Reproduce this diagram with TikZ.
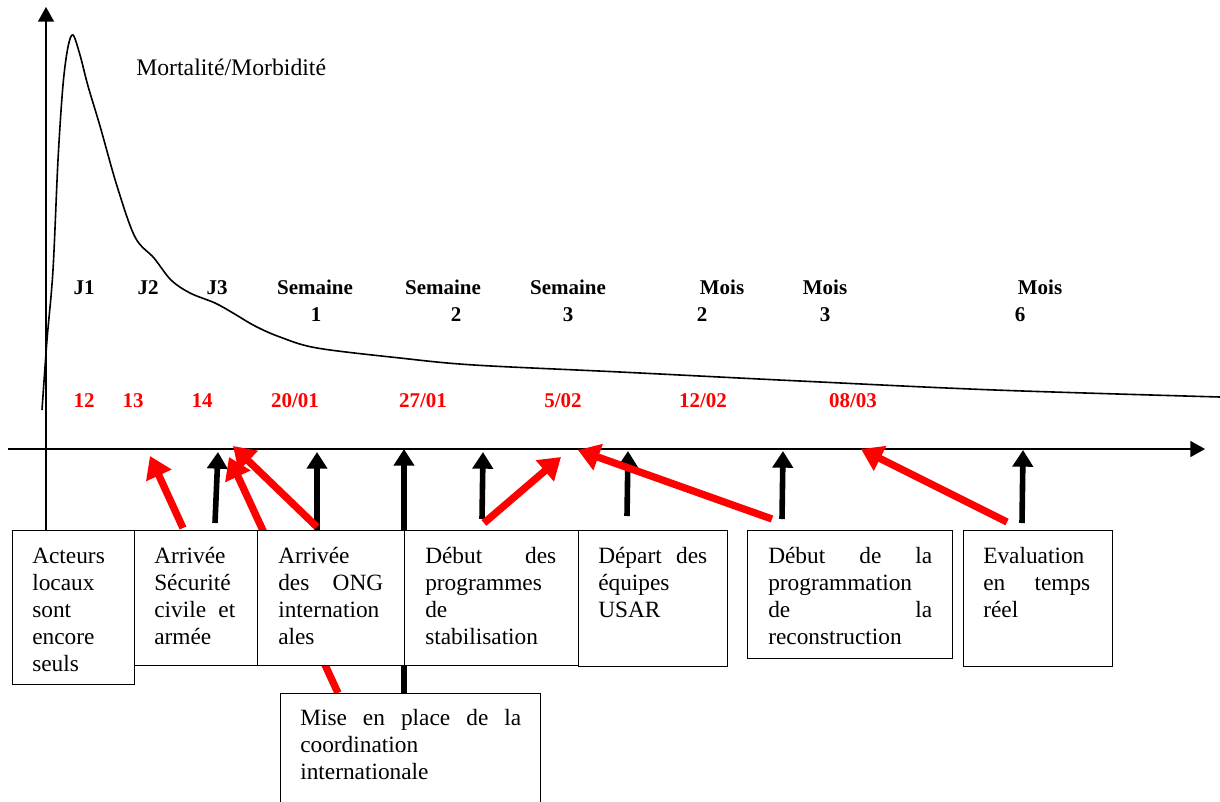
\documentclass[tikz,border=0pt]{standalone}
\usepackage{fontspec}
\setmainfont{Liberation Serif}
\usetikzlibrary{arrows.meta}
\definecolor{redarr}{RGB}{255,0,0}
\begin{document}
\begin{tikzpicture}[x=0.75pt,y=-0.75pt,
  box/.style={draw, line width=1.1pt, fill=white, inner sep=0pt, anchor=north west},
  btxt/.style={anchor=base west, inner sep=0pt, align=left, font=\fontsize{17.5}{20.25}\selectfont},
  lab/.style={anchor=base, inner sep=0pt, font=\fontsize{15.75}{18}\selectfont\bfseries},
  rlab/.style={lab, text=redarr},
  axis/.style={line width=1.2pt, -{Triangle[length=11pt,width=12pt]}},
  karr/.style={line width=4.2pt, -{Triangle[length=12.5pt,width=15pt]}},
  rarr/.style={line width=5.5pt, draw=redarr, -{Triangle[length=16pt,width=20pt,fill=redarr]}}
]
\useasboundingbox (0,0) rectangle (1220,801);
\clip (0,0) rectangle (1220,801);

% reference node for the y axis foot
\path node[box, draw=none, fill=none, minimum width=91.5pt, minimum height=115.5pt] (b1) at (12,530) {};

% axes
\coordinate (xs) at (8,449);
\coordinate (xe) at (1205,449);
\coordinate (yt) at (46,7);
\draw[axis] (xs) -- (xe);
\draw[axis] (b1.north -| yt) -- (yt);

% curve
\draw[line width=1.2pt] plot[smooth, tension=0.55] coordinates {
 (42,410) (47,340) (53,270) (58,160) (63,85) (68,47) (73,35) (80,55) (88,86)
 (100,126) (117,186) (135,237) (154,258) (171,280) (190,293) (215,303)
 (233,313) (255,326) (280,337) (317,348) (400,358) (474,365) (620,372) (800,381)
 (995,390) (1220,397)};

% arrow coordinates
\coordinate (k1s) at (215,523); \coordinate (k1e) at (218,452);
\coordinate (k2s) at (317,530); \coordinate (k2e) at (317,452);
\coordinate (k3s) at (404,693); \coordinate (k3e) at (404,449);
\coordinate (k4s) at (482,519); \coordinate (k4e) at (483,452);
\coordinate (k5s) at (627,516); \coordinate (k5e) at (628,451);
\coordinate (k6s) at (782,519); \coordinate (k6e) at (783,451);
\coordinate (k7s) at (1022,523); \coordinate (k7e) at (1023,450);
\coordinate (r1s) at (183,528); \coordinate (r1e) at (150,456);
\coordinate (r2s) at (338,693); \coordinate (r2e) at (229,457);
\coordinate (r3s) at (317,527); \coordinate (r3e) at (233,446);
\coordinate (r4s) at (484,523); \coordinate (r4e) at (561,457);
\coordinate (r5s) at (772,519); \coordinate (r5e) at (578,450);
\coordinate (r6s) at (1007,522); \coordinate (r6e) at (861,449);

\draw[karr] (k1s) -- (k1e);
\draw[karr] (k2s) -- (k2e);
\draw[karr] (k3s) -- (k3e);
\draw[karr] (k4s) -- (k4e);
\draw[karr] (k5s) -- (k5e);
\draw[karr] (k6s) -- (k6e);
\draw[karr] (k7s) -- (k7e);
\draw[rarr] (r1s) -- (r1e);
\draw[rarr] (r2s) -- (r2e);
\draw[rarr] (r3s) -- (r3e);
\draw[rarr] (r4s) -- (r4e);
\draw[rarr] (r5s) -- (r5e);
\draw[rarr] (r6s) -- (r6e);

% boxes drawn
\node[box, minimum width=91.5pt, minimum height=115.5pt] (B1) at (12,530) {};
\node[box, minimum width=92.25pt, minimum height=101.25pt] (B2) at (134,530) {};
\node[box, minimum width=110.25pt, minimum height=101.25pt] (B3) at (257,530) {};
\node[box, minimum width=130.5pt, minimum height=101.25pt] (B4) at (404,530) {};
\node[box, minimum width=111.75pt, minimum height=102pt] (B5) at (578,530) {};
\node[box, minimum width=153.75pt, minimum height=96pt] (B6) at (747,530) {};
\node[box, minimum width=111.75pt, minimum height=102pt] (B7) at (963,530) {};
\node[box, minimum width=195pt, minimum height=90pt] (B8) at (280,693) {};

% box texts
\node[btxt, text width=67.5pt] (t1) at (32,563) {Acteurs\\locaux\\sont\\encore\\seuls};
\node[btxt, text width=60.75pt] (t2) at (154,563) {Arrivée\\Sécurité\\civile\hfill et\\armée};
\node[btxt, text width=78.75pt] (t3) at (278,563) {Arrivée\\des\hfill ONG\\internation\\ales};
\node[btxt, text width=98.25pt] (t4) at (425,563) {Début\hfill des\\programmes\\de\\stabilisation};
\node[btxt, text width=81.75pt] (t5) at (598,563) {Départ\hfill des\\équipes\\USAR};
\node[btxt, text width=123pt] (t6) at (768,563) {Début\hfill de\hfill la\\programmation\\de\hfill la\\reconstruction};
\node[btxt, text width=80.25pt] (t7) at (983,563) {Evaluation\\en\hfill temps\\réel};
\node[btxt, text width=165.75pt] (t8) at (300,725) {Mise\hfill en\hfill place\hfill de\hfill la\\coordination\\internationale};

% title
\node[anchor=base west, inner sep=0pt, font=\fontsize{17.8}{20}\selectfont] (title) at (136,75) {Mortalité/Morbidité};

% period labels
\node[lab] (j1) at (84,294) {J1};
\node[lab] (j2) at (148,294) {J2};
\node[lab] (j3) at (217,294) {J3};
\node[lab] (s1) at (315,294) {Semaine};
\node[lab] (s1n) at (316,321) {1};
\node[lab] (s2) at (443,294) {Semaine};
\node[lab] (s2n) at (456,321) {2};
\node[lab] (s3) at (568,294) {Semaine};
\node[lab] (s3n) at (568,321) {3};
\node[lab] (m2) at (722,294) {Mois};
\node[lab] (m2n) at (702,321) {2};
\node[lab] (m3) at (825,294) {Mois};
\node[lab] (m3n) at (825,321) {3};
\node[lab] (m6) at (1040,294) {Mois};
\node[lab] (m6n) at (1020,321) {6};

% dates
\node[rlab] (d1) at (84,407) {12};
\node[rlab] (d2) at (133,407) {13};
\node[rlab] (d3) at (202,407) {14};
\node[rlab] (d4) at (295,407) {20/01};
\node[rlab] (d5) at (423,407) {27/01};
\node[rlab] (d6) at (563,407) {5/02};
\node[rlab] (d7) at (703,407) {12/02};
\node[rlab] (d8) at (853,407) {08/03};
\end{tikzpicture}
\end{document}
